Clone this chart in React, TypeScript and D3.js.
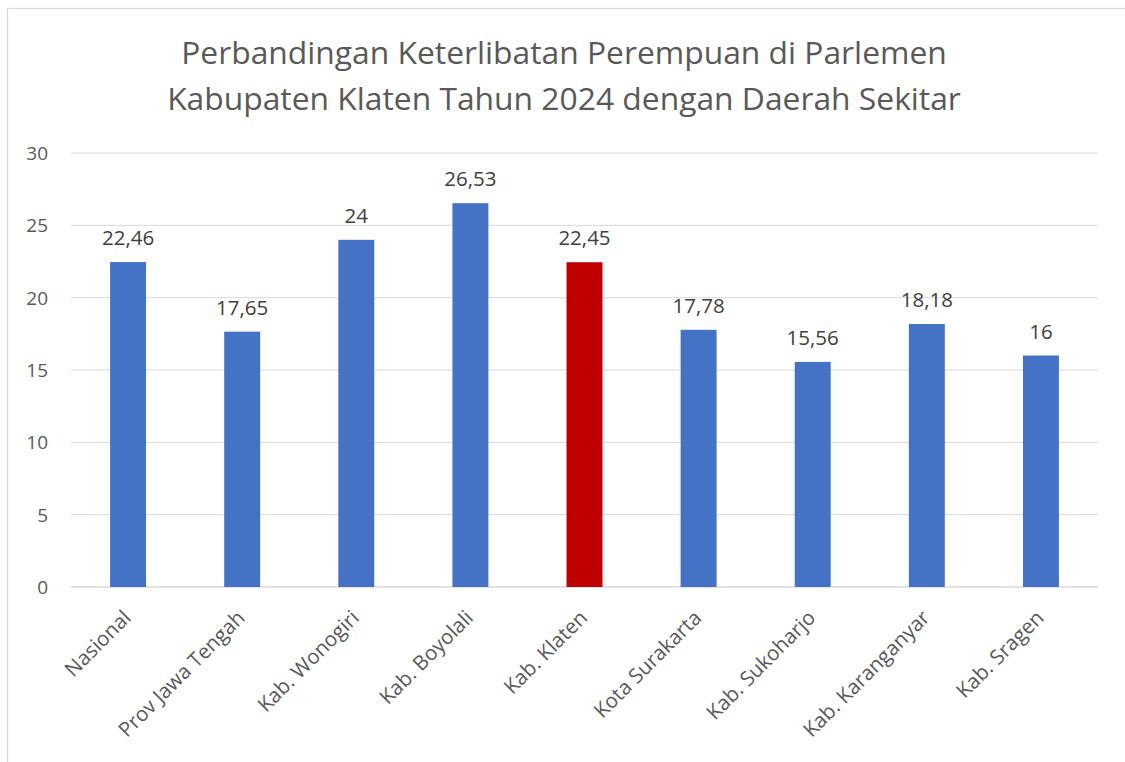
import React, { useEffect, useRef } from "react";
import * as d3 from "d3";

const categories = ["Nasional", "Prov Jawa Tengah", "Kab. Wonogiri", "Kab. Boyolali", "Kab. Klaten", "Kota Surakarta", "Kab. Sukoharjo", "Kab. Karanganyar", "Kab. Sragen"];
const values = [22.46, 17.65, 24, 26.53, 22.45, 17.78, 15.56, 18.18, 16];
const labels = ["22,46", "17,65", "24", "26,53", "22,45", "17,78", "15,56", "18,18", "16"];
const highlight = "Kab. Klaten";
const yTicks = [0, 5, 10, 15, 20, 25, 30];
const titleLines = ["Perbandingan Keterlibatan Perempuan di Parlemen", "Kabupaten Klaten Tahun 2024 dengan Daerah Sekitar"];

export default function App() {
  const ref = useRef<SVGSVGElement>(null);
  useEffect(() => {
    const svg = d3.select(ref.current);
    svg.selectAll("*").remove();
    const font = "'Open Sans', sans-serif";
    const left = 71, right = 1098, top = 153, bottom = 587;
    svg.append("rect").attr("x", 7.5).attr("y", 8.5).attr("width", 1130).attr("height", 800)
      .attr("fill", "#fff").attr("stroke", "#d9d9d9").attr("stroke-width", 1.2);
    const x = d3.scaleBand().domain(categories).range([left, right]).paddingInner(0.685).paddingOuter(0.3425);
    const y = d3.scaleLinear().domain([0, 30]).range([bottom, top]);
    const g = svg.append("g");
    yTicks.forEach(t => {
      g.append("line").attr("x1", left).attr("x2", right).attr("y1", y(t)).attr("y2", y(t))
        .attr("stroke", "#d9d9d9").attr("stroke-width", t === 0 ? 1.5 : 1);
      g.append("text").attr("x", 48).attr("y", y(t)).attr("dy", "0.36em").attr("text-anchor", "end")
        .attr("font-family", font).attr("font-size", 19).attr("fill", "#595959").text(String(t));
    });
    categories.forEach((c, i) => {
      const v = values[i];
      g.append("rect").attr("x", x(c)!).attr("width", x.bandwidth()).attr("y", y(v)).attr("height", y(0) - y(v))
        .attr("fill", c === highlight ? "#c00000" : "#4472c4");
      g.append("text").attr("x", x(c)! + x.bandwidth() / 2).attr("y", y(v) - 17).attr("text-anchor", "middle")
        .attr("font-family", font).attr("font-size", 20.5).attr("fill", "#404040").text(labels[i]);
      const cx = x(c)! + x.bandwidth() / 2 - 1;
      g.append("text").attr("transform", `translate(${cx},${614}) rotate(-45)`).attr("text-anchor", "end")
        .attr("font-family", font).attr("font-size", 20.5).attr("fill", "#595959").attr("dy", "0.35em").text(c);
    });
    titleLines.forEach((l, i) => {
      svg.append("text").attr("x", 564).attr("y", 64 + i * 46).attr("text-anchor", "middle")
        .attr("font-family", font).attr("font-size", 31.8).attr("fill", "#595959").text(l);
    });
  }, []);
  return <svg ref={ref} width={1125} height={762} style={{ position: "absolute", left: 0, top: 0 }} />;
}
